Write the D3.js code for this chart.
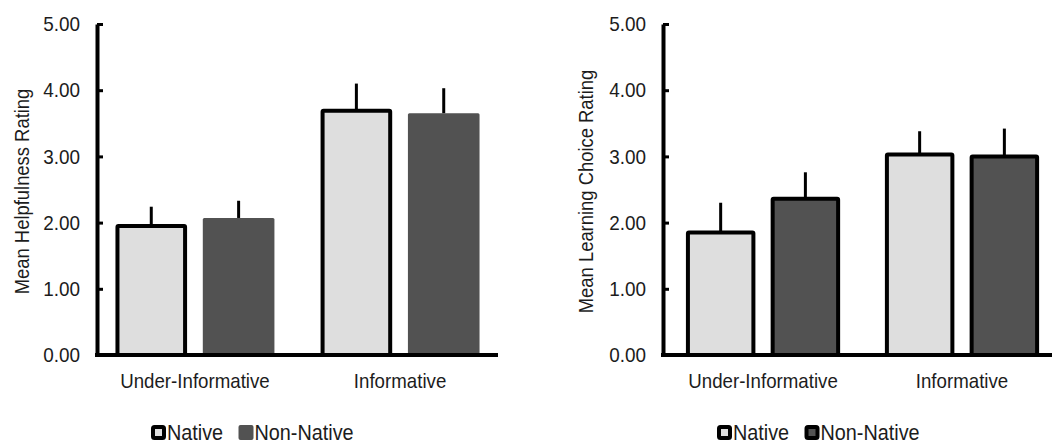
<!DOCTYPE html>
<html>
<head>
<meta charset="utf-8">
<script src="https://cdn.jsdelivr.net/npm/d3@7"></script>
<style>
  html, body { margin: 0; padding: 0; background: #fff; }
  svg { display: block; }
  text { font-family: "Liberation Sans", Arial, sans-serif; fill: #1c1c1c; }
</style>
</head>
<body>
<svg id="chart" width="1062" height="445"></svg>
<script>
// ---- data ----
const categories = ["Under-Informative", "Informative"];
const series = ["Native", "Non-Native"];
const yTicks = [0, 1, 2, 3, 4, 5];

const helpNative = [1.95, 3.69];
const helpNonNative = [2.07, 3.65];
const helpNativeErr = [0.29, 0.41];
const helpNonNativeErr = [0.26, 0.38];

const learnNative = [1.85, 3.03];
const learnNonNative = [2.36, 3.00];
const learnNativeErr = [0.45, 0.35];
const learnNonNativeErr = [0.40, 0.42];

const yTitles = ["Mean Helpfulness Rating", "Mean Learning Choice Rating"];

// ---- helpers ----
// horizontally condense text (Arial-Narrow-like look) while keeping it real text
function narrow(sel, factor) {
  sel.each(function () {
    const len = this.getComputedTextLength();
    d3.select(this).attr("textLength", len * factor).attr("lengthAdjust", "spacingAndGlyphs");
  });
}

// ---- layout ----
const svg = d3.select("#chart");
const H = { top: 24, bottom: 355 };
const fills = { "Native": "#dedede", "Non-Native": "#525252" };

const panels = [
  { x0: 97, x1: 498, align: 0.5, title: yTitles[0], titleX: 22,
    values: [helpNative, helpNonNative], errs: [helpNativeErr, helpNonNativeErr],
    stroked: { "Native": true, "Non-Native": false }, legendX: 151 },
  { x0: 663, x1: 1052, align: 0.64, title: yTitles[1], titleX: 586,
    values: [learnNative, learnNonNative], errs: [learnNativeErr, learnNonNativeErr],
    stroked: { "Native": true, "Non-Native": true }, legendX: 717 }
];

panels.forEach(p => {
  const g = svg.append("g");
  const y = d3.scaleLinear().domain([0, 5]).range([H.bottom, H.top]);
  const x0 = d3.scaleBand().domain(categories).range([p.x0, p.x1])
    .paddingInner(0.225).paddingOuter(0.09).align(p.align);
  const x1 = d3.scaleBand().domain(series).range([0, x0.bandwidth()]).paddingInner(0.18);

  const rows = [];
  categories.forEach((c, ci) => series.forEach((s, si) => {
    rows.push({ c, s, v: p.values[si][ci], e: p.errs[si][ci] });
  }));

  // error bars
  g.selectAll("line.err").data(rows).join("line")
    .attr("x1", d => x0(d.c) + x1(d.s) + x1.bandwidth() / 2)
    .attr("x2", d => x0(d.c) + x1(d.s) + x1.bandwidth() / 2)
    .attr("y1", d => y(d.v))
    .attr("y2", d => y(d.v + d.e))
    .attr("stroke", "#000").attr("stroke-width", 3);

  // bars
  g.selectAll("rect.bar").data(rows).join("rect")
    .attr("x", d => x0(d.c) + x1(d.s) + (p.stroked[d.s] ? 2 : 0))
    .attr("width", d => x1.bandwidth() - (p.stroked[d.s] ? 4 : 0))
    .attr("y", d => y(d.v))
    .attr("height", d => y(0) - y(d.v))
    .attr("fill", d => fills[d.s])
    .attr("stroke", d => p.stroked[d.s] ? "#000" : "none")
    .attr("stroke-width", 4)
    .attr("rx", d => p.stroked[d.s] ? 1 : 1.5);

  // y axis
  const ya = g.append("g").attr("transform", `translate(${p.x0},0)`)
    .call(d3.axisLeft(y).tickValues(yTicks).tickFormat(d3.format(".2f"))
      .tickSize(-6).tickSizeOuter(0).tickPadding(17));
  ya.attr("font-family", null).attr("font-size", null);
  ya.select(".domain").attr("stroke", "#000").attr("stroke-width", 4);
  ya.selectAll(".tick line").attr("stroke", "#000").attr("stroke-width", 3);
  ya.selectAll(".tick text").style("font-size", "21px").attr("fill", "#1c1c1c");
  narrow(ya.selectAll(".tick text"), 0.9);

  // x axis
  const xa = g.append("g").attr("transform", `translate(0,${H.bottom})`)
    .call(d3.axisBottom(x0).tickSize(0).tickSizeOuter(0).tickPadding(18));
  xa.attr("font-family", null).attr("font-size", null);
  xa.select(".domain").attr("stroke", "#000").attr("stroke-width", 4)
    .attr("d", `M${p.x0 - 2},0H${p.x1}`);
  xa.selectAll(".tick text").style("font-size", "21px").attr("fill", "#1c1c1c");
  narrow(xa.selectAll(".tick text"), 0.89);

  // y title
  const tt = g.append("text")
    .attr("transform", `translate(${p.titleX},${(H.top + H.bottom) / 2 + 2}) rotate(-90)`)
    .attr("text-anchor", "middle").attr("dy", "0.35em")
    .style("font-size", "20px")
    .text(p.title);
  narrow(tt, 0.92);

  // legend
  const leg = g.append("g").attr("transform", `translate(${p.legendX},425)`);
  let lx = 0;
  series.forEach(s => {
    const item = leg.append("g").attr("transform", `translate(${lx},0)`);
    if (p.stroked[s]) {
      item.append("rect").attr("x", 2).attr("y", 2).attr("width", 11).attr("height", 11)
        .attr("rx", 1.5).attr("fill", fills[s]).attr("stroke", "#000").attr("stroke-width", 4);
    } else {
      item.append("rect").attr("x", 0).attr("y", 0).attr("width", 15).attr("height", 15)
        .attr("rx", 2).attr("fill", fills[s]);
    }
    const t = item.append("text").attr("x", 16).attr("y", 15)
      .style("font-size", "22px").text(s);
    narrow(t, 0.9);
    lx += 16 + t.node().getComputedTextLength() * 0.9 + 21;
  });
});
</script>
</body>
</html>
